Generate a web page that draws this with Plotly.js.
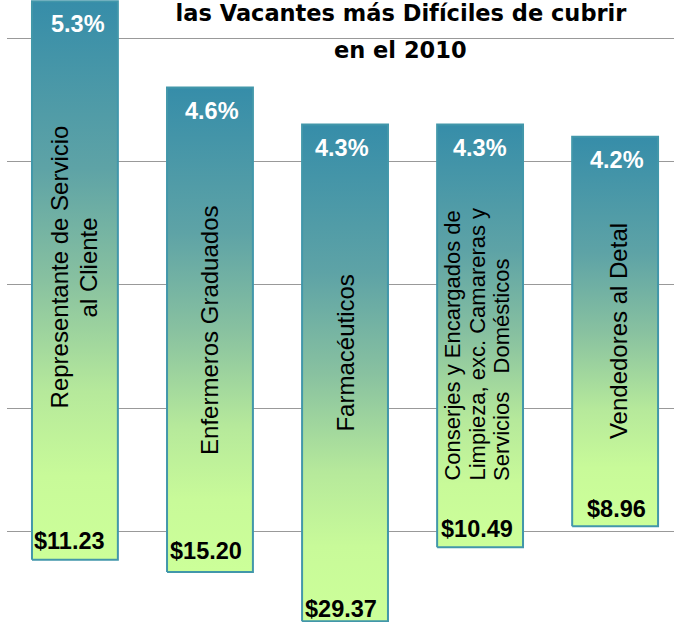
<!DOCTYPE html>
<html>
<head>
<meta charset="utf-8">
<script src="https://cdn.plot.ly/plotly-3.0.1.min.js"></script>
<style>
html,body{margin:0;padding:0;background:#ffffff;}
#chart{width:674px;height:622px;}
</style>
</head>
<body>
<div id="chart"></div>
<script>
// ---- data ----
const categories = [
  "Representante de Servicio<br>al Cliente",
  "Enfermeros Graduados",
  "Farmacéuticos",
  "Conserjes y Encargados de<br>Limpieza, exc. Camareras y<br>Servicios\u00a0\u00a0\u00a0Domésticos",
  "Vendedores al Detal"
];
const vacancyPct = [5.3, 4.6, 4.3, 4.3, 4.2];      // bar tops
const barBase    = [0.77, 0.67, 0.27, 0.87, 1.04];  // bar bottoms
const wages      = ["$11.23", "$15.20", "$29.37", "$10.49", "$8.96"];
const titleLines = ["las Vacantes más Difíciles de cubrir", "en el 2010"];
const gridVals   = [1, 2, 3, 4, 5];

// ---- style / placement ----
const halfW = 0.318;
const labelY      = [3.144, 2.633, 2.442, 1.392, 2.625];
const labelAnchor = ['middle', 'middle', 'middle', 'bottom', 'middle'];
const labelSize   = [24, 24, 24, 22, 24];
const lineGap     = [29, 0, 0, 24.5, 0];
const labelDx     = [0, 0, 1, -3, 4];
const pctDx       = [3, 2.5, -3.5, 0, 2];
const wageDx      = [-5, -3.5, -4, -3.5, 1];
const wageDy      = [4, 6, -3, 3, 2];

const fillScale = [
  [0, '#ccff99'], [0.15, '#c8fa99'], [0.3, '#b6e99b'],
  [0.5, '#88c1a0'], [0.7, '#5ea3a6'], [1, '#368da9']
];
const txtFont = 'Liberation Sans, Arial, sans-serif';

const traces = vacancyPct.map((top, i) => {
  const b = barBase[i];
  return {
    type: 'scatter', mode: 'lines',
    x: [i - halfW, i + halfW, i + halfW, i - halfW, i - halfW],
    y: [b, b, top, top, b],
    fill: 'toself',
    fillgradient: {type: 'vertical', start: b, stop: top, colorscale: fillScale},
    line: {color: '#4297aa', width: 2},
    name: categories[i].replace(/<br>/g, ' '),
    hoverinfo: 'skip', showlegend: false
  };
});

const annotations = [];
categories.forEach((cat, i) => {
  const lines = cat.split('<br>');
  const n = lines.length;
  lines.forEach((ln, k) => {
    annotations.push({
      x: i, y: labelY[i], xref: 'x', yref: 'y',
      text: ln, textangle: -90, showarrow: false,
      xanchor: 'center', yanchor: labelAnchor[i],
      xshift: (k - (n - 1) / 2) * lineGap[i] + labelDx[i],
      font: {family: txtFont, size: labelSize[i], color: '#000000'}
    });
  });
  annotations.push({
    x: i, y: vacancyPct[i], xref: 'x', yref: 'y',
    text: '<b>' + vacancyPct[i].toFixed(1) + '%</b>', showarrow: false,
    xanchor: 'center', yanchor: 'top', yshift: -8, xshift: pctDx[i],
    font: {family: txtFont, size: 23.5, color: '#ffffff'}
  });
  annotations.push({
    x: i, y: barBase[i], xref: 'x', yref: 'y',
    text: '<b>' + wages[i] + '</b>', showarrow: false,
    xanchor: 'center', yanchor: 'bottom', yshift: wageDy[i], xshift: wageDx[i],
    font: {family: txtFont, size: 23.5, color: '#000000'}
  });
});
annotations.push({
  x: (400.5 - 7) / 667, y: 1, xref: 'paper', yref: 'paper',
  text: '<b>' + titleLines[1] + '</b>', showarrow: false,
  xanchor: 'center', yanchor: 'top', yshift: -35.4,
  font: {family: 'DejaVu Sans, sans-serif', size: 22.5, color: '#000000'}
});

const layout = {
  width: 674, height: 622,
  margin: {l: 7, r: 0, t: 0, b: 0, pad: 0},
  paper_bgcolor: '#ffffff', plot_bgcolor: '#ffffff',
  showlegend: false,
  title: {
    text: '<b>' + titleLines[0] + '</b>',
    font: {family: 'DejaVu Sans, sans-serif', size: 22.5, color: '#000000'},
    xref: 'container', x: 401 / 674, xanchor: 'center',
    yref: 'container', y: 1, yanchor: 'top', pad: {t: 5, b: 0, l: 0, r: 0}
  },
  xaxis: {range: [-0.503, 4.436], visible: false, fixedrange: true},
  yaxis: {
    range: [0.264, 5.31], tickvals: gridVals, showticklabels: false,
    showgrid: true, gridcolor: '#999999', gridwidth: 1,
    zeroline: false, showline: false, ticks: '', fixedrange: true
  },
  annotations: annotations
};

Plotly.newPlot('chart', traces, layout, {displayModeBar: false, staticPlot: true});
</script>
</body>
</html>
